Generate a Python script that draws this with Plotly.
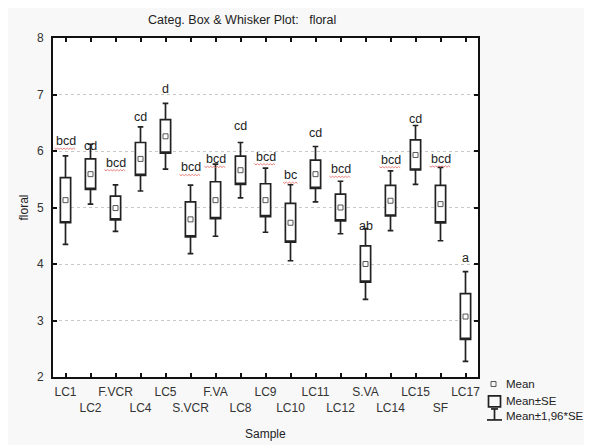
import plotly.graph_objects as go

categories = ["LC1", "LC2", "F.VCR", "LC4", "LC5", "S.VCR", "F.VA", "LC8", "LC9",
              "LC10", "LC11", "LC12", "S.VA", "LC14", "LC15", "SF", "LC17"]
means = [5.13, 5.59, 4.99, 5.86, 6.26, 4.79, 5.13, 5.66, 5.13,
         4.73, 5.59, 5.00, 4.00, 5.12, 5.93, 5.06, 3.07]
se = [0.40, 0.27, 0.21, 0.29, 0.297, 0.31, 0.326, 0.25, 0.29,
      0.343, 0.25, 0.237, 0.32, 0.27, 0.266, 0.331, 0.405]
letters = ["bcd", "cd", "bcd", "cd", "d", "bcd", "bcd", "cd", "bcd",
           "bc", "cd", "bcd", "ab", "bcd", "cd", "bcd", "a"]
letter_y = [6.175, 6.09, 5.795, 6.61, 7.10, 5.71, 5.854, 6.45, 5.90,
            5.573, 6.316, 5.678, 4.667, 5.848, 6.56, 5.86, 4.11]
y_ticks = [2, 3, 4, 5, 6, 7, 8]
legend_items = ["Mean", "Mean±SE", "Mean±1,96*SE"]

FONT = "Arial, Liberation Sans, sans-serif"
OFF = 8  # the page body adds an 8px margin; all pixel positions are shifted back by it
W, H = 592 - OFF, 445 - OFF
L, R, T, B = 53 - OFF, 478 - OFF, 37.5 - OFF, 377 - OFF


def px(x):
    return (x - OFF - L) / (R - L)


def py(y):
    return (B - (y - OFF)) / (B - T)


lo = [m - s for m, s in zip(means, se)]
hi = [m + s for m, s in zip(means, se)]
lw = [m - 1.96 * s for m, s in zip(means, se)]
uw = [m + 1.96 * s for m, s in zip(means, se)]

fig = go.Figure()
fig.add_trace(go.Box(
    x=categories, q1=lo, median=lo, q3=hi, lowerfence=lw, upperfence=uw,
    fillcolor="white", line=dict(color="#222222", width=1.7),
    width=0.41, whiskerwidth=0.55, boxpoints=False, showlegend=False,
    hoverinfo="skip"))
fig.add_trace(go.Scatter(
    x=categories, y=means, mode="markers", showlegend=False,
    marker=dict(symbol="square-open", size=5, color="#555555", line=dict(width=1))))

annotations = []
shapes = []
for i, (lab, ly) in enumerate(zip(letters, letter_y)):
    annotations.append(dict(x=categories[i], y=ly, text=lab, showarrow=False,
                            font=dict(family=FONT, size=12.5, color="#222222"),
                            xanchor="center", yanchor="middle"))
    if lab.startswith("b"):
        half = len(lab) * 3.7
        pts = []
        xx = -half
        k = 0
        while xx <= half:
            pts.append((xx, -7 if k % 2 == 0 else -8.3))
            xx += 1.6
            k += 1
        path = "M" + " L".join(f"{a:.1f},{b:.1f}" for a, b in pts)
        shapes.append(dict(type="path", xref="x", yref="y", xsizemode="pixel",
                           ysizemode="pixel", xanchor=i, yanchor=ly, path=path,
                           line=dict(color="#e06060", width=0.8)))

# legend (manual), positions given in reference-image pixels
leg_y = [384, 401.5, 416.5]
for t, yy in zip(legend_items, leg_y):
    annotations.append(dict(x=px(504), y=py(yy), xref="paper", yref="paper", text=t,
                            showarrow=False, xanchor="left", yanchor="middle",
                            font=dict(family=FONT, size=11.5, color="#222222")))
shapes.append(dict(type="rect", xref="paper", yref="paper", x0=px(491), x1=px(496),
                   y0=py(381.5), y1=py(386.5), line=dict(color="#555555", width=1)))
shapes.append(dict(type="rect", xref="paper", yref="paper", x0=px(488.5), x1=px(500.5),
                   y0=py(396), y1=py(407), line=dict(color="#222222", width=1.7)))
shapes.append(dict(type="line", xref="paper", yref="paper", x0=px(494.5), x1=px(494.5),
                   y0=py(409), y1=py(420), line=dict(color="#222222", width=1.7)))
shapes.append(dict(type="line", xref="paper", yref="paper", x0=px(491), x1=px(498),
                   y0=py(409), y1=py(409), line=dict(color="#222222", width=1.7)))
shapes.append(dict(type="line", xref="paper", yref="paper", x0=px(487), x1=px(502),
                   y0=py(420), y1=py(420), line=dict(color="#222222", width=1.7)))

# axis titles
annotations.append(dict(x=0.5, y=py(434), xref="paper", yref="paper", text="Sample",
                        showarrow=False, xanchor="center", yanchor="middle",
                        font=dict(family=FONT, size=12, color="#222222")))
annotations.append(dict(x=px(23), y=0.5, xref="paper", yref="paper", text="floral",
                        showarrow=False, textangle=-90, xanchor="center", yanchor="middle",
                        font=dict(family=FONT, size=12, color="#222222")))

ticktext = [c if i % 2 == 0 else "<br>" + c for i, c in enumerate(categories)]

fig.update_layout(
    width=W, height=H,
    margin=dict(l=L, r=W - R, t=T, b=H - B, autoexpand=False),
    paper_bgcolor="#f8f8f8", plot_bgcolor="white",
    title=dict(text="Categ. Box &amp; Whisker Plot:\u00a0\u00a0\u00a0floral",
               x=(148 - OFF) / W, xanchor="left", xref="container",
               y=1 - (20 - OFF) / H, yanchor="middle", yref="container",
               font=dict(family=FONT, size=12.5, color="#222222")),
    xaxis=dict(type="category", range=[-0.5, 16.5], tickmode="array",
               tickvals=categories, ticktext=ticktext, ticks="inside", ticklen=4,
               tickwidth=1.5, tickcolor="#111111", showline=True, linecolor="#111111",
               linewidth=2, mirror="ticks", showgrid=False, zeroline=False,
               tickangle=0,
               tickfont=dict(family=FONT, size=12, color="#333333"),
               ticklabelstandoff=3),
    yaxis=dict(range=[2, 8], tickmode="array", tickvals=y_ticks, ticks="inside",
               ticklen=4, tickwidth=1.5, tickcolor="#111111", showline=True,
               linecolor="#111111", linewidth=2, mirror="ticks", showgrid=True,
               gridcolor="#c8c8c8", griddash="dot", gridwidth=1, zeroline=False,
               tickfont=dict(family=FONT, size=12, color="#333333"),
               ticklabelstandoff=5),
    annotations=annotations, shapes=shapes,
    font=dict(family=FONT),
)

fig.write_html("out.html")
